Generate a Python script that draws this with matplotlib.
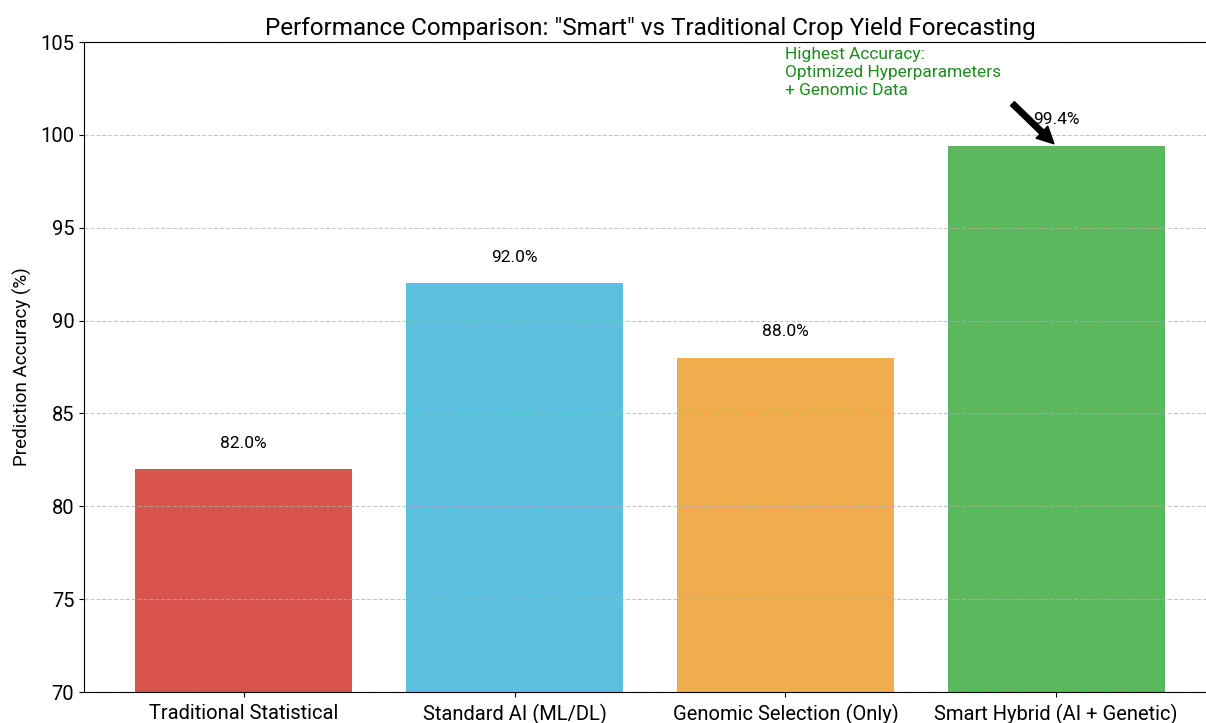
import matplotlib
matplotlib.use("Agg")
import matplotlib.pyplot as plt

categories = ['Traditional Statistical', 'Standard AI (ML/DL)',
              'Genomic Selection (Only)', 'Smart Hybrid (AI + Genetic)']
accuracy = [82.0, 92.0, 88.0, 99.4]
colors = ['#d9534f', '#5bc0de', '#f0ad4e', '#5cb85c']
yticks = [70, 75, 80, 85, 90, 95, 100, 105]

plt.rcParams['font.family'] = ['Roboto', 'DejaVu Sans']

fig = plt.figure(figsize=(12.06, 7.23), dpi=100)
# axes runs a bit past the right edge, like the cropped original
ax = fig.add_axes([84/1206, 31/723, 1132/1206, 650/723])

x = list(range(len(categories)))
bars = ax.bar(x, accuracy, color=colors, width=0.8)
ax.set_ylim(70, 105)
ax.set_yticks(yticks)
ax.set_xticks(x)
ax.set_xticklabels(categories, fontsize=14.5)
ax.tick_params(axis='x', pad=5)
ax.tick_params(axis='y', labelsize=14.5)
ax.set_ylabel('Prediction Accuracy (%)', fontsize=13.5, labelpad=6)
ax.set_title('Performance Comparison: "Smart" vs Traditional Crop Yield Forecasting',
             fontsize=17.5, pad=5)
ax.yaxis.grid(True, linestyle='--', alpha=0.7)

for b, v in zip(bars, accuracy):
    ax.text(b.get_x() + b.get_width()/2, v + 1, f'{v:.1f}%',
            ha='center', va='bottom', fontsize=12.5)

ax.text(2.0, 104.75, 'Highest Accuracy:\nOptimized Hyperparameters\n+ Genomic Data',
        color='#1e8c1e', fontsize=12.5, ha='left', va='top', linespacing=1.25)
ax.annotate('', xy=(3, 99.4), xytext=(2.83, 101.8),
            arrowprops=dict(facecolor='black', shrink=0.05))

fig.savefig('out.png', dpi=100)
